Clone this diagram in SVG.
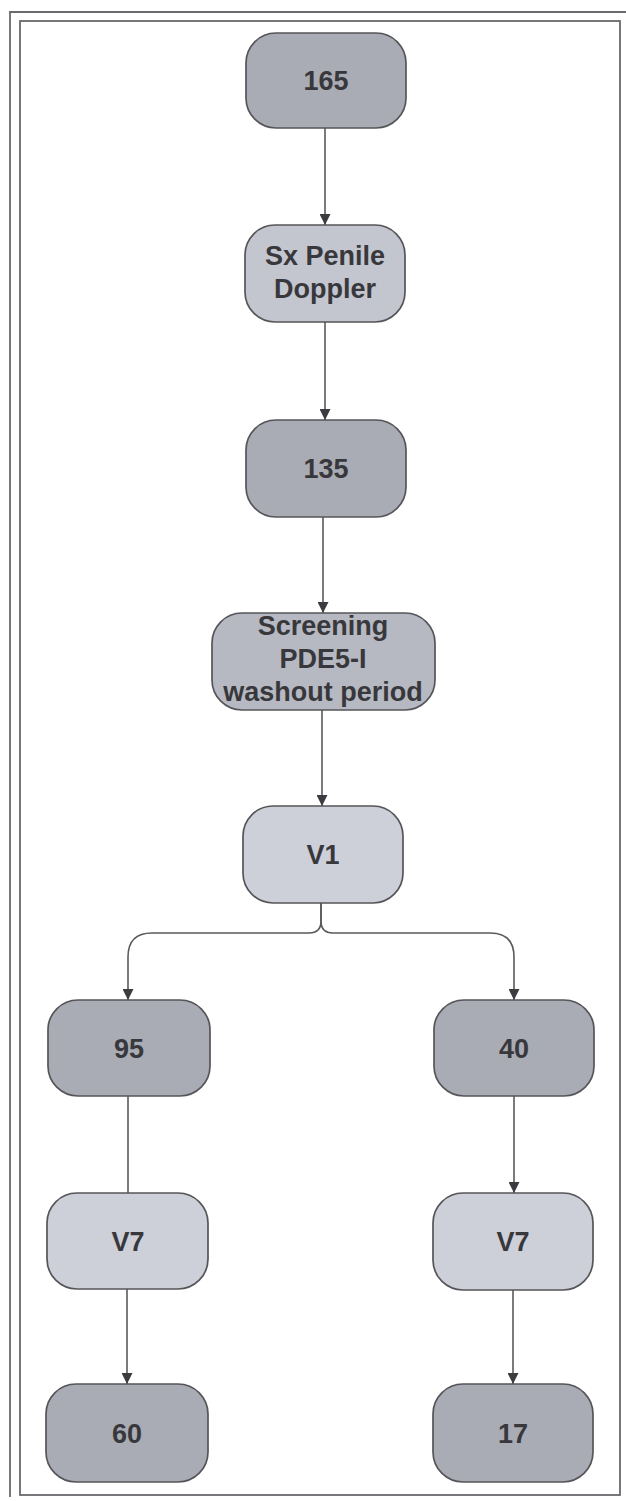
<svg xmlns="http://www.w3.org/2000/svg" width="626" height="1501" viewBox="0 0 626 1501">
<defs>
<marker id="ah" viewBox="0 0 10 10" refX="10" refY="5" markerWidth="11" markerHeight="11" markerUnits="userSpaceOnUse" orient="auto">
<path d="M0,0 L10,5 L0,10 Z" fill="#3c3c40"/>
</marker>
<style>
.dark{fill:#a9acb4;stroke:#555559;stroke-width:1.7}
.mid{fill:#b6b9c2;stroke:#555559;stroke-width:1.7}
.light{fill:#cdd0d9;stroke:#555559;stroke-width:1.7}
.lt2{fill:#c3c6cf;stroke:#555559;stroke-width:1.7}
.t{font-family:"Liberation Sans",Arial,sans-serif;font-weight:bold;font-size:27px;fill:#38383c;text-anchor:middle}
.c{fill:none;stroke:#5a5a5e;stroke-width:1.6}
.frame{fill:none;stroke:#6a6a6e;stroke-width:1.8}
</style>
</defs>
<rect width="626" height="1501" fill="#ffffff"/>
<g id="frame">
<path class="frame" d="M10,1497 V12 H626"/>
<rect class="frame" x="20" y="21" width="600" height="1474"/>
</g>
<g id="connectors">
<line class="c" x1="325" y1="128" x2="325" y2="225" marker-end="url(#ah)"/>
<line class="c" x1="325" y1="322" x2="325" y2="420" marker-end="url(#ah)"/>
<line class="c" x1="323" y1="517" x2="323" y2="613" marker-end="url(#ah)"/>
<line class="c" x1="322" y1="710" x2="322" y2="806" marker-end="url(#ah)"/>
<path class="c" d="M321,903 V921 Q321,933 309,933 H152 Q128,933 128,957 V1000" marker-end="url(#ah)"/>
<path class="c" d="M321,903 V921 Q321,933 333,933 H490 Q514,933 514,957 V1000" marker-end="url(#ah)"/>
<line class="c" x1="128" y1="1096" x2="128" y2="1193"/>
<line class="c" x1="514" y1="1096" x2="514" y2="1193" marker-end="url(#ah)"/>
<line class="c" x1="127" y1="1289" x2="127" y2="1384" marker-end="url(#ah)"/>
<line class="c" x1="513" y1="1290" x2="513" y2="1384" marker-end="url(#ah)"/>
</g>
<g id="n165"><rect class="dark" x="246" y="33" width="160" height="95" rx="30"/><text class="t" x="326" y="90">165</text></g>
<g id="nSx"><rect class="lt2" x="245" y="225" width="160" height="97" rx="30"/><text class="t" x="325" y="265">Sx Penile</text><text class="t" x="325" y="298">Doppler</text></g>
<g id="n135"><rect class="dark" x="246" y="420" width="160" height="97" rx="30"/><text class="t" x="326" y="478">135</text></g>
<g id="nScreen"><rect class="mid" x="212" y="613" width="223" height="97" rx="30"/><text class="t" x="323" y="635">Screening</text><text class="t" x="323" y="668">PDE5-I</text><text class="t" x="323" y="701">washout period</text></g>
<g id="nV1"><rect class="light" x="243" y="806" width="160" height="97" rx="30"/><text class="t" x="323" y="864">V1</text></g>
<g id="n95"><rect class="dark" x="48" y="1000" width="162" height="96" rx="30"/><text class="t" x="129" y="1058">95</text></g>
<g id="n40"><rect class="dark" x="434" y="1000" width="160" height="96" rx="30"/><text class="t" x="514" y="1058">40</text></g>
<g id="nV7a"><rect class="light" x="47" y="1193" width="161" height="96" rx="30"/><text class="t" x="128" y="1251">V7</text></g>
<g id="nV7b"><rect class="light" x="433" y="1193" width="160" height="97" rx="30"/><text class="t" x="513" y="1251">V7</text></g>
<g id="n60"><rect class="dark" x="46" y="1384" width="162" height="98" rx="30"/><text class="t" x="127" y="1443">60</text></g>
<g id="n17"><rect class="dark" x="433" y="1384" width="160" height="98" rx="30"/><text class="t" x="513" y="1443">17</text></g>
</svg>
